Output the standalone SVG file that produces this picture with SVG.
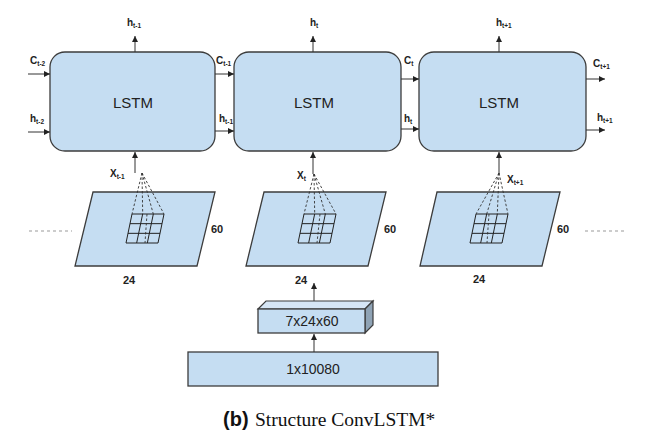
<svg xmlns="http://www.w3.org/2000/svg" width="663" height="442" viewBox="0 0 663 442">
<style>
.box{fill:#c5ddf2;stroke:#3c3c3c;stroke-width:1.3}
.lbl{font-family:"Liberation Sans",Arial,sans-serif;font-weight:bold;fill:#222}
.main{font-size:10px}
.sub{font-size:6.5px}
.dim{font-family:"Liberation Sans",Arial,sans-serif;font-weight:bold;font-size:11px;fill:#222}
.txt{font-family:"Liberation Sans",Arial,sans-serif;fill:#222;text-anchor:middle}
.arr{stroke:#333;stroke-width:1;fill:none;marker-end:url(#ah)}
.dash{stroke:#333;stroke-width:0.9;stroke-dasharray:2.5,2;fill:none}
.gray{stroke:#999;stroke-width:1;stroke-dasharray:3,3;fill:none}
.grid{stroke:#222;stroke-width:1;fill:none}
</style>
<defs>
<marker id="ah" markerUnits="userSpaceOnUse" markerWidth="7" markerHeight="6" refX="6" refY="3" orient="auto">
<path d="M0,0 L6,3 L0,6 z" fill="#222"/>
</marker>
<g id="gridshape">
<path class="grid" d="M6,0 L38,0 M4,9.67 L36,9.67 M2,19.33 L34,19.33 M0,29 L32,29 M6,0 L0,29 M16.67,0 L10.67,29 M27.33,0 L21.33,29 M38,0 L32,29"/>
</g>
</defs>
<rect width="663" height="442" fill="#ffffff"/>

<!-- LSTM nodes -->
<g id="lstm1">
<rect class="box" x="50" y="52" width="165" height="99" rx="15" ry="15"/>
<text class="txt" x="133" y="108" font-size="15">LSTM</text>
</g>
<g id="lstm2">
<rect class="box" x="234" y="52" width="167" height="99" rx="15" ry="15"/>
<text class="txt" x="314" y="108" font-size="15">LSTM</text>
</g>
<g id="lstm3">
<rect class="box" x="419" y="52" width="167" height="99" rx="15" ry="15"/>
<text class="txt" x="499" y="108" font-size="15">LSTM</text>
</g>

<!-- input planes -->
<g id="plane1">
<polygon class="box" points="93,192 215,192 197,266 75,266"/>
<use href="#gridshape" x="126" y="214"/>
<path class="dash" d="M142,173 L132,214 M142,173 L142.7,214 M142,173 L153.3,214 M142,173 L164,214 M147,214 L145,243"/>
<text class="dim" x="211" y="233">60</text>
<text class="dim" x="123" y="284">24</text>
</g>
<g id="plane2">
<polygon class="box" points="264,192 386,192 368,266 246,266"/>
<use href="#gridshape" x="298" y="214"/>
<path class="dash" d="M314,174 L304,214 M314,174 L314.7,214 M314,174 L325.3,214 M314,174 L336,214 M320,214 L317,243"/>
<text class="dim" x="384" y="233">60</text>
<text class="dim" x="295" y="284">24</text>
</g>
<g id="plane3">
<polygon class="box" points="437,192 560,192 542,266 420,266"/>
<use href="#gridshape" x="470" y="214"/>
<path class="dash" d="M499,173 L476,214 M499,173 L486.7,214 M499,173 L497.3,214 M499,173 L508,214 M489,214 L487,243"/>
<text class="dim" x="557" y="233">60</text>
<text class="dim" x="473" y="283">24</text>
</g>

<!-- reshape blocks -->
<g id="block3d">
<polygon points="258,309 266,301 373,301 365,309" fill="#d6e6f5" stroke="#3c3c3c" stroke-width="1.2"/>
<polygon points="365,309 373,301 373,325 365,333" fill="#8fa3b5" stroke="#3c3c3c" stroke-width="1.2"/>
<rect class="box" x="258" y="309" width="107" height="24"/>
<text class="txt" x="312" y="326" font-size="14">7x24x60</text>
</g>
<g id="flat">
<rect class="box" x="188" y="352" width="250" height="34"/>
<text class="txt" x="313" y="374" font-size="14">1x10080</text>
</g>

<!-- connectors -->
<g id="connectors">
<path class="arr" d="M135,52 L135,36"/>
<path class="arr" d="M313,52 L313,36"/>
<path class="arr" d="M499,52 L499,36"/>
<path class="arr" d="M28,74 L50,74"/>
<path class="arr" d="M28,132 L50,132"/>
<path class="arr" d="M215,74 L234,74"/>
<path class="arr" d="M215,131 L234,131"/>
<path class="arr" d="M401,79 L419,79"/>
<path class="arr" d="M401,129 L419,129"/>
<path class="arr" d="M586,79 L605,79"/>
<path class="arr" d="M586,130 L605,130"/>
<path class="arr" d="M135,173 L135,152"/>
<path class="arr" d="M313,174 L313,152"/>
<path class="arr" d="M499,173 L499,152"/>
<path class="arr" d="M314,301 L314,283"/>
<path class="arr" d="M314,352 L314,334"/>
<path class="gray" d="M29,231 L72,231"/>
<path class="gray" d="M585,231 L627,231"/>
</g>

<!-- labels -->
<g id="labels">
<text class="lbl" x="127" y="26"><tspan class="main">h</tspan><tspan class="sub" dy="2">t-1</tspan></text>
<text class="lbl" x="310" y="26"><tspan class="main">h</tspan><tspan class="sub" dy="2">t</tspan></text>
<text class="lbl" x="496" y="26"><tspan class="main">h</tspan><tspan class="sub" dy="2">t+1</tspan></text>
<text class="lbl" x="30" y="64"><tspan class="main">C</tspan><tspan class="sub" dy="2">t-2</tspan></text>
<text class="lbl" x="30" y="122"><tspan class="main">h</tspan><tspan class="sub" dy="2">t-2</tspan></text>
<text class="lbl" x="216" y="64"><tspan class="main">C</tspan><tspan class="sub" dy="2">t-1</tspan></text>
<text class="lbl" x="219" y="122" font-weight="normal"><tspan class="main">h</tspan><tspan class="sub" dy="2">t-1</tspan></text>
<text class="lbl" x="404" y="64"><tspan class="main">C</tspan><tspan class="sub" dy="2">t</tspan></text>
<text class="lbl" x="404" y="122"><tspan class="main">h</tspan><tspan class="sub" dy="2">t</tspan></text>
<text class="lbl" x="593" y="67"><tspan class="main">C</tspan><tspan class="sub" dy="2">t+1</tspan></text>
<text class="lbl" x="597" y="121"><tspan class="main">h</tspan><tspan class="sub" dy="2">t+1</tspan></text>
<text class="lbl" x="110" y="177"><tspan class="main">X</tspan><tspan class="sub" dy="2">t-1</tspan></text>
<text class="lbl" x="297" y="179"><tspan class="main">X</tspan><tspan class="sub" dy="2">t</tspan></text>
<text class="lbl" x="507" y="183"><tspan class="main">X</tspan><tspan class="sub" dy="2">t+1</tspan></text>
</g>

<text x="223" y="426" fill="#111"><tspan font-family="Liberation Sans,Arial,sans-serif" font-weight="bold" font-size="20">(b)</tspan><tspan font-family="Liberation Serif,Times New Roman,serif" font-size="19.5" x="255">Structure ConvLSTM*</tspan></text>
</svg>
